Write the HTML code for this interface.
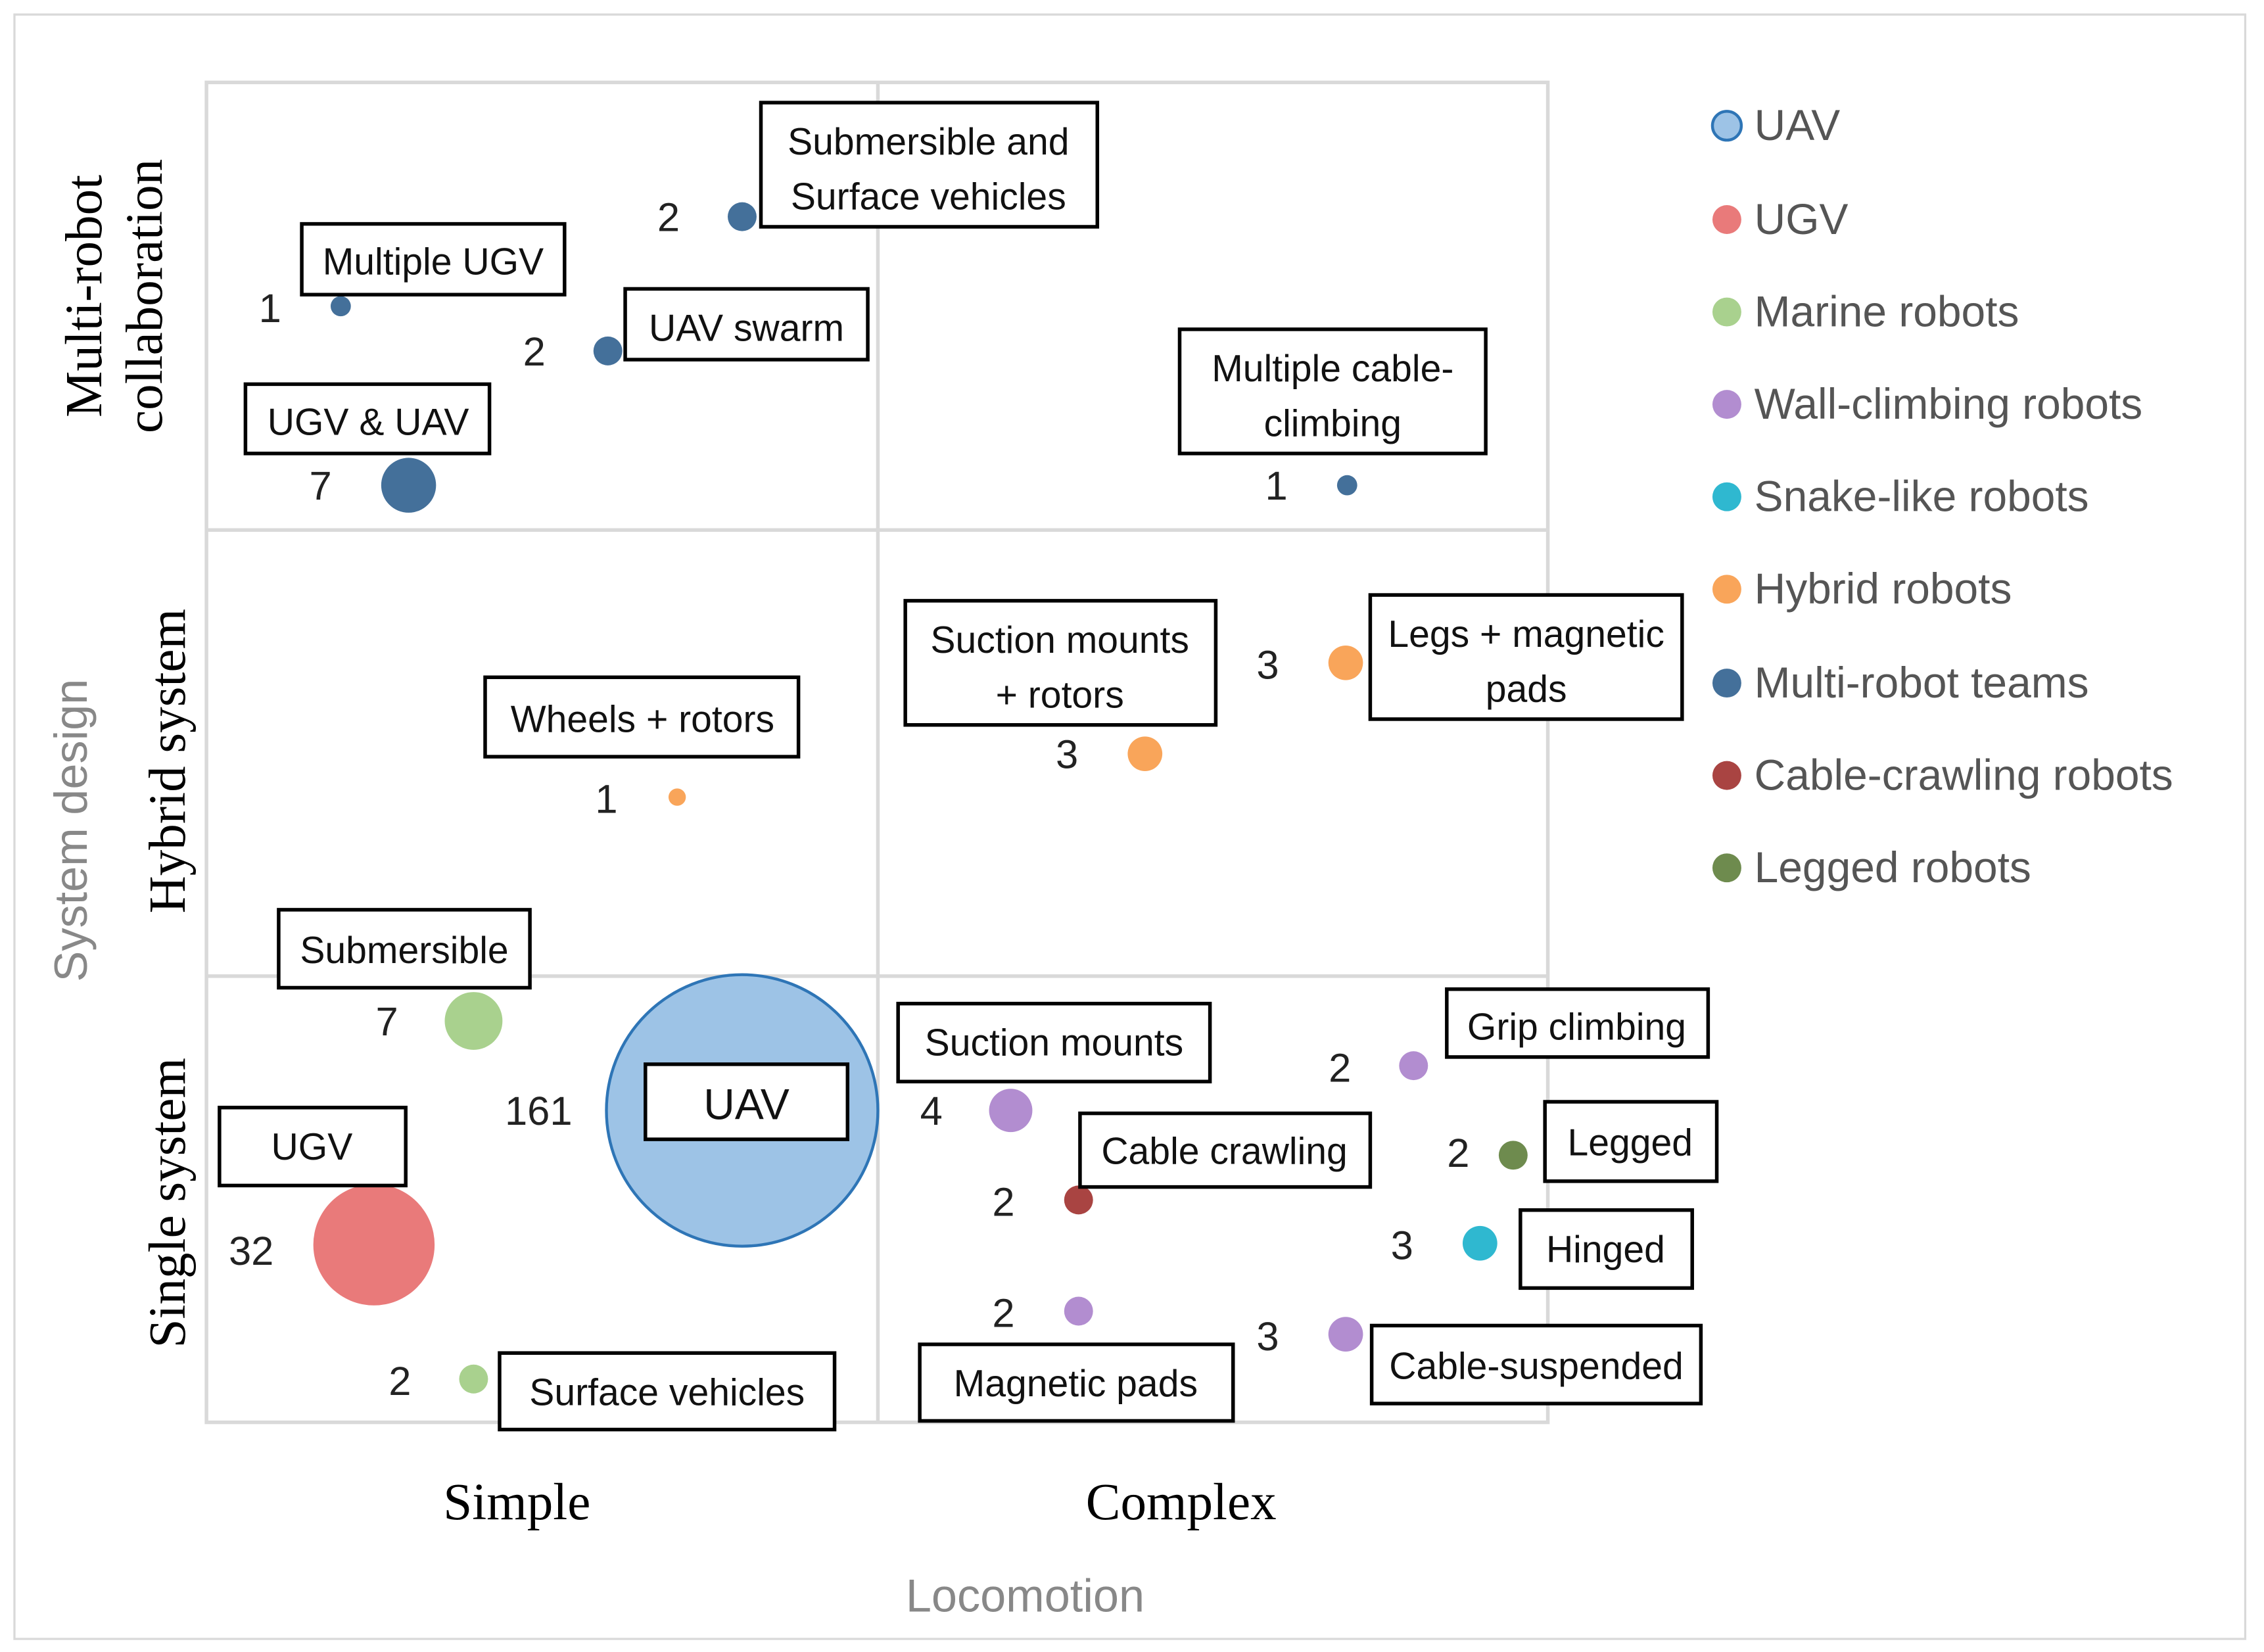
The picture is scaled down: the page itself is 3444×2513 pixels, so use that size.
<!DOCTYPE html>
<html><head><meta charset="utf-8"><style>
html,body{margin:0;padding:0;background:#fff}
svg{display:block}
.l{font-family:"Liberation Sans Narrow","Liberation Sans",sans-serif;font-size:26px;fill:#111}
.n{font-family:"Liberation Sans",sans-serif;font-size:28px;fill:#222}
.g{font-family:"Liberation Sans",sans-serif;font-size:30px;fill:#555}
.s{font-family:"Liberation Serif",serif;font-size:36px;fill:#000}
.t{font-family:"Liberation Sans",sans-serif;font-size:32px;fill:#888}
rect.b{fill:#fff;stroke:#000;stroke-width:2.5}
</style></head><body>
<svg width="3444" height="2513" viewBox="0 0 1568 1144" xmlns="http://www.w3.org/2000/svg">
<rect x="10" y="10" width="1545" height="1125" fill="#fff" stroke="#d9d9d9" stroke-width="1.5"/>
<g stroke="#d9d9d9" stroke-width="2.5" fill="none">
<rect x="143" y="57" width="929" height="928"/>
<line x1="608" y1="57" x2="608" y2="985"/>
<line x1="143" y1="367" x2="1072" y2="367"/>
<line x1="143" y1="676" x2="1072" y2="676"/>
</g>
<text class="s" x="358" y="1052" text-anchor="middle">Simple</text>
<text class="s" x="818" y="1052" text-anchor="middle">Complex</text>
<text class="t" x="710" y="1116" text-anchor="middle">Locomotion</text>
<text class="t" transform="translate(60,575) rotate(-90)" text-anchor="middle">System design</text>
<text class="s" transform="translate(128,833) rotate(-90)" text-anchor="middle">Single system</text>
<text class="s" transform="translate(128,527) rotate(-90)" text-anchor="middle">Hybrid system</text>
<text class="s" transform="translate(70,205) rotate(-90)" text-anchor="middle">Multi-robot</text>
<text class="s" transform="translate(112,205) rotate(-90)" text-anchor="middle">collaboration</text>
<circle cx="514" cy="769" r="94" fill="#9dc3e6" stroke="#2e75b6" stroke-width="2"/>
<circle cx="259" cy="862" r="42" fill="#e97a7a"/>
<circle cx="328" cy="707" r="20" fill="#a9d18e"/>
<circle cx="328" cy="955" r="10" fill="#a9d18e"/>
<circle cx="236" cy="212" r="7" fill="#44709a"/>
<circle cx="514" cy="150" r="10" fill="#44709a"/>
<circle cx="421" cy="243" r="10" fill="#44709a"/>
<circle cx="283" cy="336" r="19" fill="#44709a"/>
<circle cx="933" cy="336" r="7" fill="#44709a"/>
<circle cx="932" cy="459" r="12" fill="#f9a55a"/>
<circle cx="793" cy="522" r="12" fill="#f9a55a"/>
<circle cx="469" cy="552" r="6" fill="#f9a55a"/>
<circle cx="700" cy="769" r="15" fill="#b28dd0"/>
<circle cx="747" cy="831" r="10" fill="#a94442"/>
<circle cx="747" cy="908" r="10" fill="#b28dd0"/>
<circle cx="979" cy="738" r="10" fill="#b28dd0"/>
<circle cx="1048" cy="800" r="10" fill="#6e8b4e"/>
<circle cx="1025" cy="861" r="12" fill="#2fb8d0"/>
<circle cx="932" cy="924" r="12" fill="#b28dd0"/>
<g class="n" text-anchor="middle">
<text x="187" y="223">1</text><text x="463" y="160">2</text><text x="370" y="253">2</text>
<text x="222" y="346">7</text><text x="884" y="346">1</text><text x="878" y="470">3</text>
<text x="739" y="532">3</text><text x="420" y="563">1</text><text x="268" y="717">7</text>
<text x="373" y="779">161</text><text x="174" y="876">32</text><text x="277" y="966">2</text>
<text x="645" y="779">4</text><text x="695" y="842">2</text><text x="695" y="919">2</text>
<text x="928" y="749">2</text><text x="1010" y="808">2</text><text x="971" y="872">3</text>
<text x="878" y="935">3</text>
</g>
<g>
<rect class="b" x="527" y="71" width="233" height="86"/>
<rect class="b" x="209" y="155" width="182" height="49"/>
<rect class="b" x="433" y="200" width="168" height="49"/>
<rect class="b" x="170" y="266" width="169" height="48"/>
<rect class="b" x="817" y="228" width="212" height="86"/>
<rect class="b" x="949" y="412" width="216" height="86"/>
<rect class="b" x="627" y="416" width="215" height="86"/>
<rect class="b" x="336" y="469" width="217" height="55"/>
<rect class="b" x="193" y="630" width="174" height="54"/>
<rect class="b" x="447" y="737" width="140" height="52"/>
<rect class="b" x="152" y="767" width="129" height="54"/>
<rect class="b" x="346" y="937" width="232" height="53"/>
<rect class="b" x="622" y="695" width="216" height="54"/>
<rect class="b" x="748" y="771" width="201" height="51"/>
<rect class="b" x="637" y="931" width="217" height="53"/>
<rect class="b" x="1002" y="685" width="181" height="47"/>
<rect class="b" x="1070" y="763" width="119" height="55"/>
<rect class="b" x="1053" y="838" width="119" height="54"/>
<rect class="b" x="950" y="918" width="228" height="54"/>
</g>
<g class="l" text-anchor="middle">
<text x="643" y="107">Submersible and</text><text x="643" y="145">Surface vehicles</text>
<text x="300" y="190">Multiple UGV</text>
<text x="517" y="236">UAV swarm</text>
<text x="255" y="301">UGV &amp; UAV</text>
<text x="923" y="264">Multiple cable-</text><text x="923" y="302">climbing</text>
<text x="1057" y="448">Legs + magnetic</text><text x="1057" y="486">pads</text>
<text x="734" y="452">Suction mounts</text><text x="734" y="490">+ rotors</text>
<text x="445" y="507">Wheels + rotors</text>
<text x="280" y="667">Submersible</text>
<text x="517" y="775" style="font-size:30px">UAV</text>
<text x="216" y="803">UGV</text>
<text x="462" y="973">Surface vehicles</text>
<text x="730" y="731">Suction mounts</text>
<text x="848" y="806">Cable crawling</text>
<text x="745" y="967">Magnetic pads</text>
<text x="1092" y="720">Grip climbing</text>
<text x="1129" y="800">Legged</text>
<text x="1112" y="874">Hinged</text>
<text x="1064" y="955">Cable-suspended</text>
</g>
<circle cx="1196" cy="87" r="10" fill="#9dc3e6" stroke="#2e75b6" stroke-width="2"/>
<circle cx="1196" cy="152" r="10" fill="#e97a7a"/>
<circle cx="1196" cy="216" r="10" fill="#a9d18e"/>
<circle cx="1196" cy="280" r="10" fill="#b28dd0"/>
<circle cx="1196" cy="344" r="10" fill="#2fb8d0"/>
<circle cx="1196" cy="408" r="10" fill="#f9a55a"/>
<circle cx="1196" cy="473" r="10" fill="#44709a"/>
<circle cx="1196" cy="537" r="10" fill="#a94442"/>
<circle cx="1196" cy="601" r="10" fill="#6e8b4e"/>
<g class="g">
<text x="1215" y="97">UAV</text><text x="1215" y="162">UGV</text>
<text x="1215" y="226">Marine robots</text><text x="1215" y="290">Wall-climbing robots</text>
<text x="1215" y="354">Snake-like robots</text><text x="1215" y="418">Hybrid robots</text>
<text x="1215" y="483">Multi-robot teams</text><text x="1215" y="547">Cable-crawling robots</text>
<text x="1215" y="611">Legged robots</text>
</g>
</svg>
</body></html>
